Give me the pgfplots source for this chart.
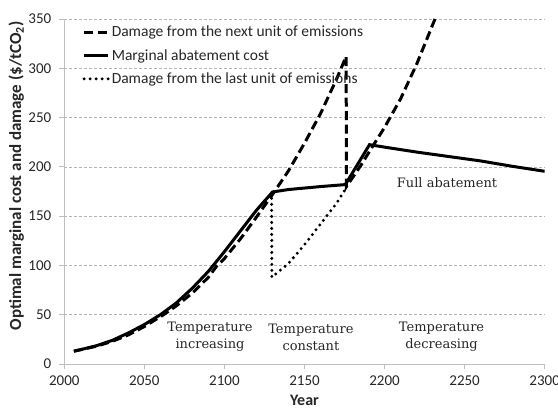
\documentclass[border=0pt]{standalone}
\usepackage{fontspec}
\setmainfont{Carlito}
\newfontfamily\seriffont{DejaVu Serif}
\usepackage{pgfplots}
\pgfplotsset{compat=1.18}
\begin{document}
\begin{tikzpicture}
\begin{axis}[
  scale only axis, width=480.4bp, height=345bp,
  xmin=2000, xmax=2300, ymin=0, ymax=350,
  xtick={2000,2050,...,2300}, ytick={0,50,...,350},
  axis lines=left, axis line style={-, draw=black!25, line width=0.8bp},
  tick align=outside, major tick length=5bp,
  tick style={draw=black!25, line width=0.8bp},
  ymajorgrids, grid style={draw=black!30, dash pattern=on 3bp off 2bp, line width=0.6bp},
  /pgf/number format/assume math mode=true,
  /pgf/number format/1000 sep={},
  ticklabel style={font=\fontsize{15bp}{17bp}\selectfont, text=black!85},
  xticklabel style={yshift=-3bp},
  yticklabel style={xshift=-4.5bp},
  xlabel={Year},
  ylabel={Optimal marginal cost and damage (\$/tCO\textsubscript{2})},
  xlabel style={font=\fontsize{16bp}{18bp}\selectfont\bfseries, text=black!85,
    at={(axis description cs:0.5,0)}, anchor=center, yshift=-36bp},
  ylabel style={font=\fontsize{17bp}{19bp}\selectfont\bfseries, text=black!85,
    at={(axis description cs:0,0.545)}, anchor=center, yshift=48bp},
  legend style={at={(axis description cs:0,1)}, anchor=north west, xshift=15bp, yshift=-3bp,
    draw=none, fill=none, font=\fontsize{15.5bp}{17bp}\selectfont, text=black!85, row sep=7bp},
  legend cell align=left,
  legend image code/.code={\draw[#1] (0bp,0bp) -- (24bp,0bp);},
]
\addplot[black, line width=3bp, dash pattern=on 9bp off 4.5bp] coordinates {
(2006,13) (2020,18) (2030,23) (2040,29.5) (2050,38) (2062,50) (2070,59) (2080,72)
(2090,88) (2095,99) (2100,107) (2110,127) (2120,149) (2130,172) (2140,196)
(2150,224) (2160,254) (2170,289) (2176,312) (2176.2,180) (2185,201) (2193,222)
(2200,240) (2210,269) (2220,304) (2232,352)};
\addlegendentry{Damage from the next unit of emissions}
\addplot[black, line width=3bp] coordinates {
(2006,13) (2010,14.5) (2020,18.5) (2030,24) (2040,31.5) (2050,40) (2060,50) (2070,62)
(2080,77) (2090,94) (2100,114) (2110,135) (2120,156) (2130,174.5) (2140,177)
(2150,178.5) (2160,180) (2175.5,182) (2190.6,222.5) (2200,220) (2220,215)
(2240,210.5) (2260,206) (2280,200.5) (2300,195.5)};
\addlegendentry{Marginal abatement cost}
\addplot[black, line width=3.3bp, line cap=round, dash pattern=on 0bp off 6bp] coordinates {
(2129.5,168) (2129.6,88) (2140,102) (2150,121) (2160,142) (2170,163) (2176.5,180)};
\addlegendentry{Damage from the last unit of emissions}
\node[font=\seriffont\fontsize{13bp}{17bp}\selectfont, align=center, text=black!85] at (axis cs:2091,27.4) {Temperature\\increasing};
\node[font=\seriffont\fontsize{13bp}{17bp}\selectfont, align=center, text=black!85] at (axis cs:2154,27.4) {Temperature\\constant};
\node[font=\seriffont\fontsize{13bp}{17bp}\selectfont, align=center, text=black!85] at (axis cs:2235.6,27.4) {Temperature\\decreasing};
\node[font=\seriffont\fontsize{13bp}{17bp}\selectfont, text=black!85] at (axis cs:2239,184) {Full abatement};
\end{axis}
\pgfresetboundingbox
\path (-64.3bp,-45bp) rectangle (493.7bp,364bp);
\end{tikzpicture}
\end{document}
